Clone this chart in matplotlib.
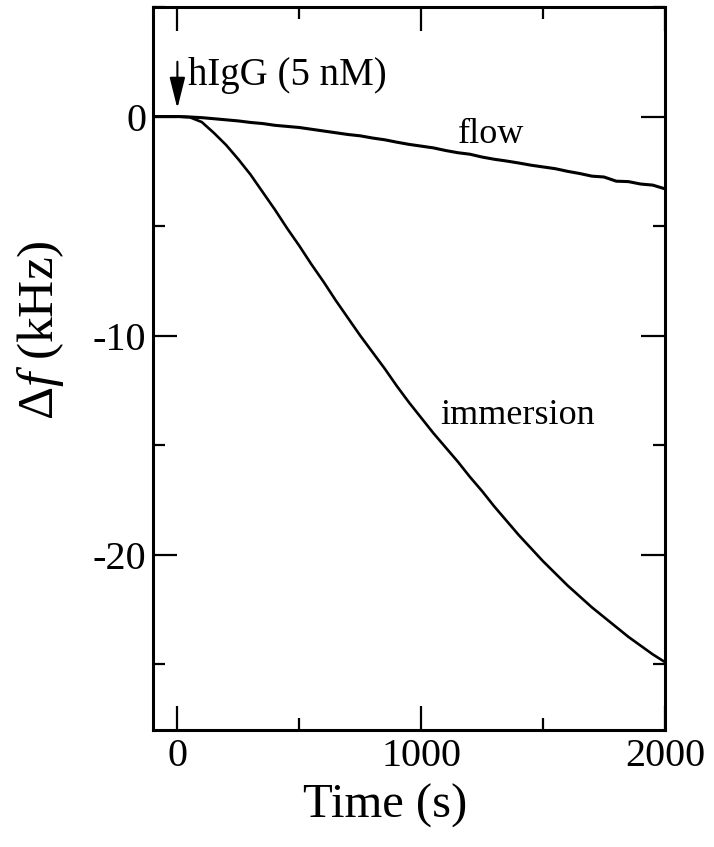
#!/usr/bin/env python3

import matplotlib
matplotlib.use("Agg")
import matplotlib.pyplot as plt
from matplotlib.ticker import MultipleLocator


# values (time in s, shift in kHz)
t_flow = [-95, 0, 50, 100, 150, 200, 250, 300, 350, 400, 450, 500, 550, 600,
          650, 700, 750, 800, 850, 900, 950, 1000, 1050, 1100, 1150, 1200,
          1250, 1300, 1350, 1400, 1450, 1500, 1550, 1600, 1650, 1700, 1750,
          1800, 1850, 1900, 1950, 2000]
df_flow = [0.0, 0.0, -0.02, -0.05, -0.10, -0.15, -0.20, -0.27, -0.32, -0.40,
           -0.45, -0.50, -0.58, -0.66, -0.74, -0.82, -0.88, -0.98, -1.06,
           -1.17, -1.27, -1.35, -1.43, -1.55, -1.65, -1.72, -1.85, -1.95,
           -2.03, -2.12, -2.22, -2.30, -2.38, -2.50, -2.60, -2.72, -2.76,
           -2.95, -2.97, -3.08, -3.13, -3.30]

t_imm = [-95, 0, 50, 100, 150, 200, 250, 300, 350, 400, 450, 500, 550, 600,
         650, 700, 750, 800, 850, 900, 950, 1000, 1050, 1100, 1150, 1200,
         1250, 1300, 1350, 1400, 1450, 1500, 1550, 1600, 1650, 1700, 1750,
         1800, 1850, 1900, 1950, 2000]
df_imm = [0.0, 0.0, -0.03, -0.25, -0.75, -1.30, -1.95, -2.65, -3.45, -4.25,
          -5.10, -5.90, -6.75, -7.55, -8.40, -9.20, -10.00, -10.75, -11.50,
          -12.30, -13.05, -13.75, -14.45, -15.10, -15.75, -16.45, -17.10,
          -17.80, -18.45, -19.10, -19.70, -20.30, -20.85, -21.40, -21.90,
          -22.40, -22.85, -23.30, -23.75, -24.15, -24.55, -24.90]

plt.rcParams["font.family"] = ["Liberation Serif", "DejaVu Serif"]
plt.rcParams["mathtext.fontset"] = "custom"
plt.rcParams["mathtext.rm"] = "Liberation Serif"
plt.rcParams["mathtext.it"] = "Liberation Serif:italic"
plt.rcParams["axes.unicode_minus"] = False

W, H = 714, 847
fig = plt.figure(figsize=(W / 100, H / 100), dpi=100)
ax = fig.add_axes([153 / W, 1 - 730 / H, (665 - 153) / W, (730 - 7) / H])

ax.plot(t_flow, df_flow, color="black", lw=2.2)
ax.plot(t_imm, df_imm, color="black", lw=1.9)

ax.set_xlim(-100, 2000)
ax.set_ylim(-28, 5)
ax.xaxis.set_major_locator(MultipleLocator(1000))
ax.xaxis.set_minor_locator(MultipleLocator(500))
ax.yaxis.set_major_locator(MultipleLocator(10))
ax.yaxis.set_minor_locator(MultipleLocator(5))

for s in ax.spines.values():
    s.set_linewidth(2.2)
ax.tick_params(which="both", direction="in", top=True, right=True,
               width=1.6, labelsize=29)
ax.tick_params(which="major", length=17)
ax.tick_params(which="minor", length=8.5)
ax.tick_params(axis="x", pad=6)
ax.tick_params(axis="y", pad=5)

ax.set_xlabel("Time (s)", fontsize=35)
ax.xaxis.label.set_va("baseline")
ax.xaxis.set_label_coords(385 / W, 1 - 818 / H, transform=fig.transFigure)
ax.set_ylabel(r"$\Delta f$ (kHz)", fontsize=37)
ax.yaxis.label.set_va("center")
ax.yaxis.set_label_coords(40 / W, 1 - 330 / H, transform=fig.transFigure)

# injection marker and curve labels
ax.annotate("", xy=(0, 0.37), xytext=(0, 2.5),
            arrowprops=dict(arrowstyle="-|>,head_length=1.0,head_width=0.25",
                            mutation_scale=19, lw=1.5, color="black",
                            shrinkA=0, shrinkB=0))
ax.text(45, 1.45, "hIgG (5 nM)", fontsize=28, va="baseline", ha="left")
ax.text(1150, -1.19, "flow", fontsize=26, va="baseline", ha="left")
ax.text(1080, -14.02, "immersion", fontsize=26, va="baseline", ha="left")

fig.savefig("out.png", dpi=100)
plt.close(fig)
